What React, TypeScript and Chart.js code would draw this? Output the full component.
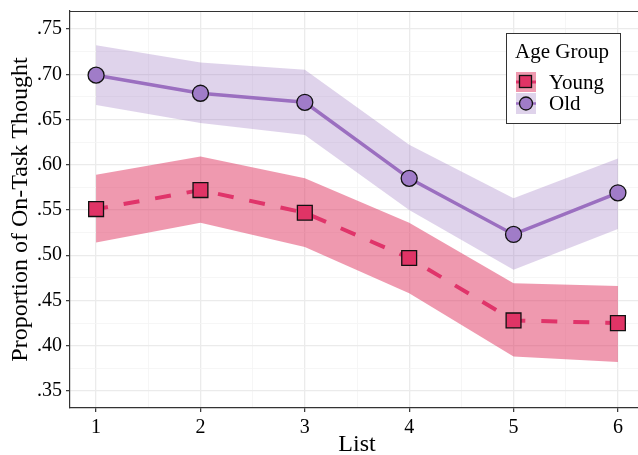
import React, { useEffect, useRef } from "react";
import { Chart, registerables } from "chart.js";

Chart.register(...registerables);

const lists = [1, 2, 3, 4, 5, 6];
const youngMean = [0.551, 0.572, 0.547, 0.497, 0.428, 0.425];
const youngUpper = [0.589, 0.609, 0.585, 0.536, 0.469, 0.466];
const youngLower = [0.514, 0.536, 0.509, 0.458, 0.388, 0.382];
const oldMean = [0.699, 0.679, 0.669, 0.585, 0.523, 0.569];
const oldUpper = [0.732, 0.713, 0.705, 0.622, 0.563, 0.607];
const oldLower = [0.666, 0.646, 0.633, 0.550, 0.484, 0.529];

const yMajor = [0.35, 0.4, 0.45, 0.5, 0.55, 0.6, 0.65, 0.7, 0.75];
const yMinor = [0.375, 0.425, 0.475, 0.525, 0.575, 0.625, 0.675, 0.725];
const xMajor = [1, 2, 3, 4, 5, 6];
const xMinor = [1.5, 2.5, 3.5, 4.5, 5.5];

const PINK = "#E0346A";
const PINK_FILL = "#E03466";
const PINK_RIBBON = "rgba(224,52,96,0.5)";
const PURPLE = "#9B6FC0";
const PURPLE_FILL = "#A07CC8";
const PURPLE_RIBBON = "rgba(150,110,190,0.3)";
const FONT = "'Liberation Serif', 'Times New Roman', serif";

const pts = (ys: number[]) => ys.map((y, i) => ({ x: lists[i], y }));

const isMinor = (v: number, arr: number[]) => arr.some((m) => Math.abs(m - v) < 1e-6);

const legendPlugin = {
  id: "customLegend",
  afterDraw(chart: any) {
    const ctx = chart.ctx;
    const ca = chart.chartArea;
    ctx.save();
    // top border of panel
    ctx.strokeStyle = "#333";
    ctx.lineWidth = 1.2;
    ctx.beginPath();
    ctx.moveTo(ca.left, ca.top + 0.5);
    ctx.lineTo(ca.right, ca.top + 0.5);
    ctx.stroke();

    const bx = 506.5, by = 33.5, bw = 114, bh = 90;
    ctx.fillStyle = "#fff";
    ctx.fillRect(bx, by, bw, bh);
    ctx.strokeStyle = "#333";
    ctx.lineWidth = 1;
    ctx.strokeRect(bx, by, bw, bh);

    ctx.fillStyle = "#000";
    ctx.font = `21px ${FONT}`;
    ctx.textBaseline = "middle";
    ctx.textAlign = "left";
    ctx.fillText("Age Group", 515, 52);

    // Young key
    ctx.fillStyle = PINK_RIBBON;
    ctx.fillRect(516, 72, 20, 20);
    ctx.strokeStyle = PINK;
    ctx.lineWidth = 3;
    ctx.beginPath();
    ctx.moveTo(516, 82);
    ctx.lineTo(536, 82);
    ctx.stroke();
    ctx.fillStyle = PINK_FILL;
    ctx.fillRect(519.5, 75.5, 12, 12);
    ctx.strokeStyle = "#111";
    ctx.lineWidth = 1.3;
    ctx.strokeRect(519.5, 75.5, 12, 12);
    // Old key
    ctx.fillStyle = PURPLE_RIBBON;
    ctx.fillRect(516, 93, 20, 21);
    ctx.strokeStyle = PURPLE;
    ctx.lineWidth = 2.5;
    ctx.beginPath();
    ctx.moveTo(516, 103.5);
    ctx.lineTo(536, 103.5);
    ctx.stroke();
    ctx.beginPath();
    ctx.arc(526, 103.5, 6.5, 0, Math.PI * 2);
    ctx.fillStyle = PURPLE_FILL;
    ctx.fill();
    ctx.strokeStyle = "#111";
    ctx.lineWidth = 1.3;
    ctx.stroke();

    ctx.fillStyle = "#000";
    ctx.font = `21px ${FONT}`;
    ctx.fillText("Young", 549, 83);
    ctx.fillText("Old", 549, 104);
    ctx.restore();
  },
};

export default function App() {
  const ref = useRef<HTMLCanvasElement>(null);
  useEffect(() => {
    document.body.style.margin = "0";
    const chart = new Chart(ref.current!, {
      type: "line",
      data: {
        datasets: [
          {
            label: "Young",
            data: pts(youngMean),
            borderColor: PINK,
            borderWidth: 4,
            borderDash: [16, 16],
            borderDashOffset: 4,
            pointStyle: "rect",
            pointRadius: 10.5,
            pointBackgroundColor: PINK_FILL,
            pointBorderColor: "#111",
            pointBorderWidth: 1.3,
            fill: false,
            tension: 0,
          },
          {
            label: "Old",
            data: pts(oldMean),
            borderColor: PURPLE,
            borderWidth: 3.5,
            pointStyle: "circle",
            pointRadius: 8,
            pointBackgroundColor: PURPLE_FILL,
            pointBorderColor: "#111",
            pointBorderWidth: 1.3,
            fill: false,
            tension: 0,
          },
          {
            label: "youngUpper",
            data: pts(youngUpper),
            borderWidth: 0,
            pointRadius: 0,
            backgroundColor: PINK_RIBBON,
            fill: "+1",
          },
          {
            label: "youngLower",
            data: pts(youngLower),
            borderWidth: 0,
            pointRadius: 0,
            fill: false,
          },
          {
            label: "oldUpper",
            data: pts(oldUpper),
            borderWidth: 0,
            pointRadius: 0,
            backgroundColor: PURPLE_RIBBON,
            fill: "+1",
          },
          {
            label: "oldLower",
            data: pts(oldLower),
            borderWidth: 0,
            pointRadius: 0,
            fill: false,
          },
        ],
      },
      options: {
        animation: false,
        responsive: false,
        events: [],
        layout: { autoPadding: false, padding: { top: 11, right: 0, left: 0, bottom: 0 } },
        plugins: { legend: { display: false }, tooltip: { enabled: false } },
        scales: {
          x: {
            type: "linear",
            min: 0.75,
            max: 6.25,
            afterFit: (s: any) => {
              s.height = 47;
              s.paddingLeft = 0;
              s.paddingRight = 0;
            },
            afterBuildTicks: (s: any) => {
              s.ticks = [...xMajor, ...xMinor].sort((a, b) => a - b).map((v) => ({ value: v }));
            },
            ticks: {
              autoSkip: false,
              maxRotation: 0,
              padding: 4,
              color: "#000",
              font: { family: FONT, size: 20 },
              callback: (v: any) => (isMinor(Number(v), xMinor) ? "" : String(v)),
            },
            grid: {
              color: (c: any) => (c.tick && isMinor(c.tick.value, xMinor) ? "#f4f4f4" : "#ebebeb"),
              lineWidth: (c: any) => (c.tick && isMinor(c.tick.value, xMinor) ? 0.8 : 1.3),
              tickColor: (c: any) => (c.tick && isMinor(c.tick.value, xMinor) ? "rgba(0,0,0,0)" : "#333"),
              tickLength: 4,
              tickWidth: 1.2,
            },
            border: { display: true, color: "#333", width: 1.2 },
            title: {
              display: true,
              text: "List",
              color: "#000",
              font: { family: FONT, size: 24 },
              padding: { top: 0, bottom: -4 },
            },
          },
          y: {
            type: "linear",
            min: 0.3312,
            max: 0.7699,
            afterFit: (s: any) => {
              s.width = 70;
              s.paddingTop = 0;
              s.paddingBottom = 0;
            },
            afterBuildTicks: (s: any) => {
              s.ticks = [...yMajor, ...yMinor].sort((a, b) => a - b).map((v) => ({ value: v }));
            },
            ticks: {
              autoSkip: false,
              padding: 4,
              color: "#000",
              font: { family: FONT, size: 20 },
              callback: (v: any) =>
                isMinor(Number(v), yMinor) ? "" : "." + Number(v).toFixed(2).split(".")[1],
            },
            grid: {
              color: (c: any) => (c.tick && isMinor(c.tick.value, yMinor) ? "#f4f4f4" : "#ebebeb"),
              lineWidth: (c: any) => (c.tick && isMinor(c.tick.value, yMinor) ? 0.8 : 1.3),
              tickColor: (c: any) => (c.tick && isMinor(c.tick.value, yMinor) ? "rgba(0,0,0,0)" : "#333"),
              tickLength: 4,
              tickWidth: 1.2,
            },
            border: { display: true, color: "#333", width: 1.2 },
            title: {
              display: true,
              text: "Proportion of On-Task Thought",
              color: "#000",
              font: { family: FONT, size: 24 },
              padding: { top: 6, bottom: 0 },
            },
          },
        },
      },
      plugins: [legendPlugin],
    });
    return () => chart.destroy();
  }, []);
  return (
    <div style={{ width: 638, height: 455, overflow: "hidden", position: "relative", background: "#fff" }}>
      <canvas ref={ref} width={644} height={455} style={{ position: "absolute", left: 0, top: 0 }} />
    </div>
  );
}
